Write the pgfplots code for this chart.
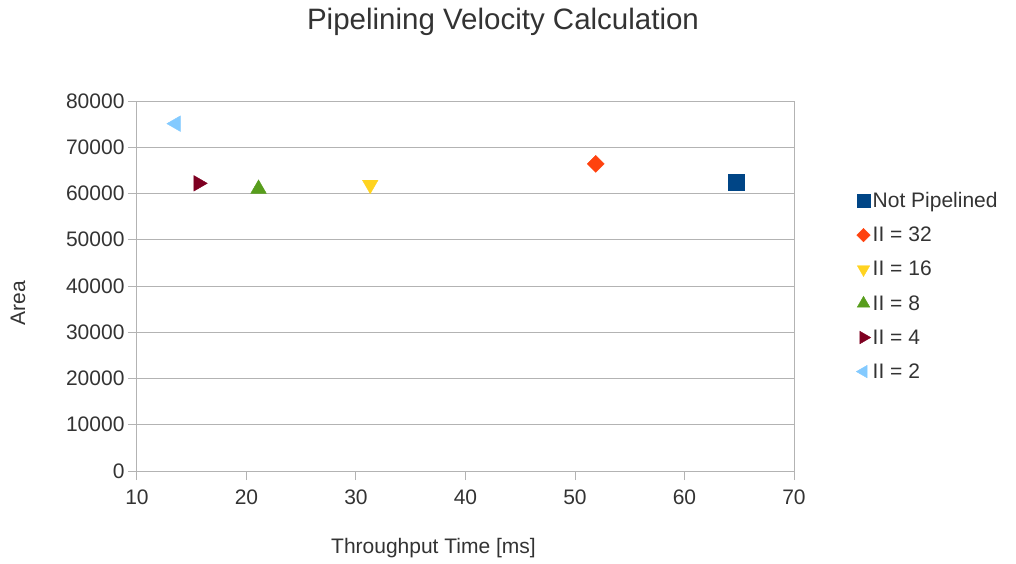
\documentclass[border=0pt]{standalone}
\usepackage{pgfplots}
\pgfplotsset{compat=1.18}
\usepackage{fontspec}
\setmainfont{Liberation Sans}
\definecolor{cNP}{HTML}{004586}
\definecolor{cA}{HTML}{FF420E}
\definecolor{cB}{HTML}{FFD320}
\definecolor{cC}{HTML}{579D1C}
\definecolor{cD}{HTML}{7E0021}
\definecolor{cE}{HTML}{83CAFF}
\definecolor{txt}{HTML}{333333}
\definecolor{gridc}{HTML}{B3B3B3}
\begin{document}
\begin{tikzpicture}
\begin{axis}[
  scale only axis,
  width=657pt, height=370pt,
  at={(0,0)}, anchor=south west,
  xmin=10, xmax=70, ymin=0, ymax=80000,
  xtick={10,20,...,70},
  ytick={0,10000,...,80000},
  scaled y ticks=false,
  /pgf/number format/assume math mode=true,
  yticklabel style={/pgf/number format/fixed,/pgf/number format/1000 sep={}},
  xticklabel style={yshift=-6pt},
  ymajorgrids,
  grid style={gridc, line width=1pt},
  axis line style={gridc, line width=1pt},
  tick style={gridc, line width=1pt},
  tick align=outside,
  major tick length=9pt,
  xtick pos=bottom, ytick pos=left,
  tick label style={font=\fontsize{21}{24}\selectfont, text=txt},
  xlabel={Throughput Time [ms]},
  ylabel={Area},
  label style={font=\fontsize{21}{24}\selectfont, text=txt},
  xlabel style={at={(axis description cs:0.5,0)}, anchor=center, yshift=-77pt, xshift=-32pt},
  ylabel style={at={(axis description cs:0,0.5)}, anchor=center, yshift=119pt, xshift=-17pt},
  legend style={draw=none, fill=none, at={(1.09,0.5)}, anchor=west,
    font=\fontsize{21}{24}\selectfont, text=txt, row sep=14pt,
    legend cell align=left, nodes={inner xsep=2pt}},
  legend image code/.code={\draw[#1, every mark/.append style={scale=0.8}] plot coordinates {(0.25cm,0cm)};},
]
\addplot[only marks, mark=square*, mark size=8pt, color=cNP] coordinates {(64.7,62550)};
\addlegendentry{Not Pipelined}
\addplot[only marks, mark=square*, mark size=6pt, mark options={rotate=45}, color=cA] coordinates {(51.9,66400)};
\addlegendentry{II = 32}
\addplot[only marks, mark=triangle*, mark size=9pt, mark options={rotate=180}, color=cB] coordinates {(31.3,61900)};
\addlegendentry{II = 16}
\addplot[only marks, mark=triangle*, mark size=9pt, color=cC] coordinates {(21.1,61000)};
\addlegendentry{II = 8}
\addplot[only marks, mark=triangle*, mark size=9pt, mark options={rotate=-90}, color=cD] coordinates {(15.6,62200)};
\addlegendentry{II = 4}
\addplot[only marks, mark=triangle*, mark size=9pt, mark options={rotate=90}, color=cE] coordinates {(13.55,75100)};
\addlegendentry{II = 2}
\end{axis}
\node[font=\fontsize{29.5}{34}\selectfont, text=txt] at (366pt,449pt) {Pipelining Velocity Calculation};
\path[use as bounding box] (-137pt,-92pt) rectangle (879pt,471pt);
\end{tikzpicture}
\end{document}
